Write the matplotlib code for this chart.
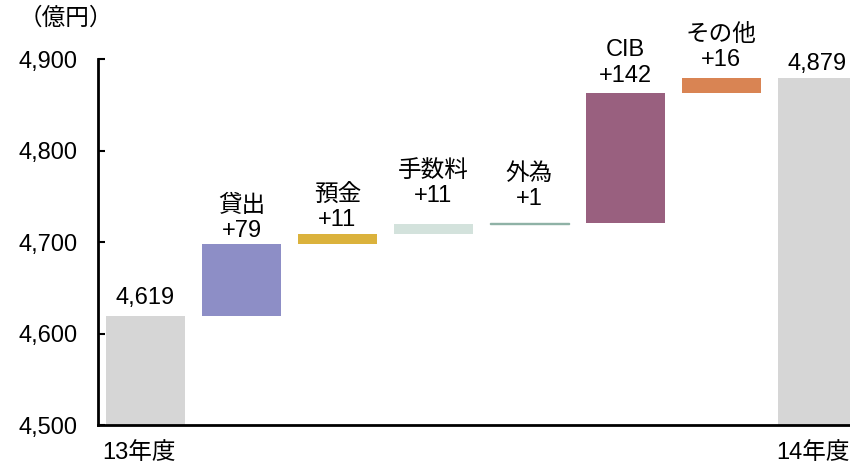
import matplotlib
matplotlib.use('Agg')
import matplotlib.pyplot as plt
from matplotlib.ticker import FuncFormatter

plt.rcParams['font.family'] = ['Liberation Sans', 'Noto Sans CJK JP']

# 13年度 -> 14年度 の増減内訳（億円）
names = ['13年度', '貸出', '預金', '手数料', '外為', 'CIB', 'その他', '14年度']
start = 4619
deltas = [79, 11, 11, 1, 142, 16]
end = 4879
colors = ['#d6d6d6', '#8d8ec6', '#dbb23c', '#d3e2dc', '#8fb2a6',
          '#99607f', '#d98453', '#d6d6d6']
# ラベルのベースラインと棒上端の間隔（pt）
label_pad = [9, 5, 5.5, 15.5, 12.5, 8, 8.5, 6]
# 外為は幅が細すぎるので縁取りで太らせる
edge_w = [0, 0, 0, 0, 1.0, 0, 0, 0]

bottoms = [4500]
heights = [start - 4500]
level = start
for d in deltas:
    bottoms.append(level)
    heights.append(d)
    level += d
bottoms.append(4500)
heights.append(end - 4500)

labels = ['{:,}'.format(start)]
labels += ['{}\n+{}'.format(n, d) for n, d in zip(names[1:-1], deltas)]
labels += ['{:,}'.format(end)]

fig = plt.figure(figsize=(8.5, 4.65), dpi=100)
ax = fig.add_axes([0.1153, 0.086, 0.8847, 0.787])

x = list(range(len(names)))
ax.bar(x, heights, bottom=bottoms, width=0.83, color=colors,
       edgecolor=colors, linewidth=edge_w)

for i in x:
    top = bottoms[i] + heights[i]
    ax.annotate(labels[i], (i, top), xytext=(0, label_pad[i]),
                textcoords='offset points', ha='center', va='baseline',
                fontsize=17, linespacing=1.2, annotation_clip=False)

ax.set_xlim(-0.495, 7.34)
ax.set_ylim(4500, 4900)
ax.set_yticks([4500, 4600, 4700, 4800, 4900])
ax.yaxis.set_major_formatter(FuncFormatter(lambda v, p: '{:,}'.format(int(v))))
ax.tick_params(axis='y', direction='in', length=5, width=1.5, labelsize=17, pad=15)
ax.set_xticks([-0.07, 6.955])
ax.set_xticklabels([names[0], names[-1]], fontsize=17)
ax.tick_params(axis='x', length=0, pad=12)

for s in ['top', 'right']:
    ax.spines[s].set_visible(False)
for s in ['left', 'bottom']:
    ax.spines[s].set_linewidth(2)

fig.text(0.022, 0.96, '（億円）', fontsize=17, ha='left', va='center')

fig.savefig('out.png', dpi=100)
